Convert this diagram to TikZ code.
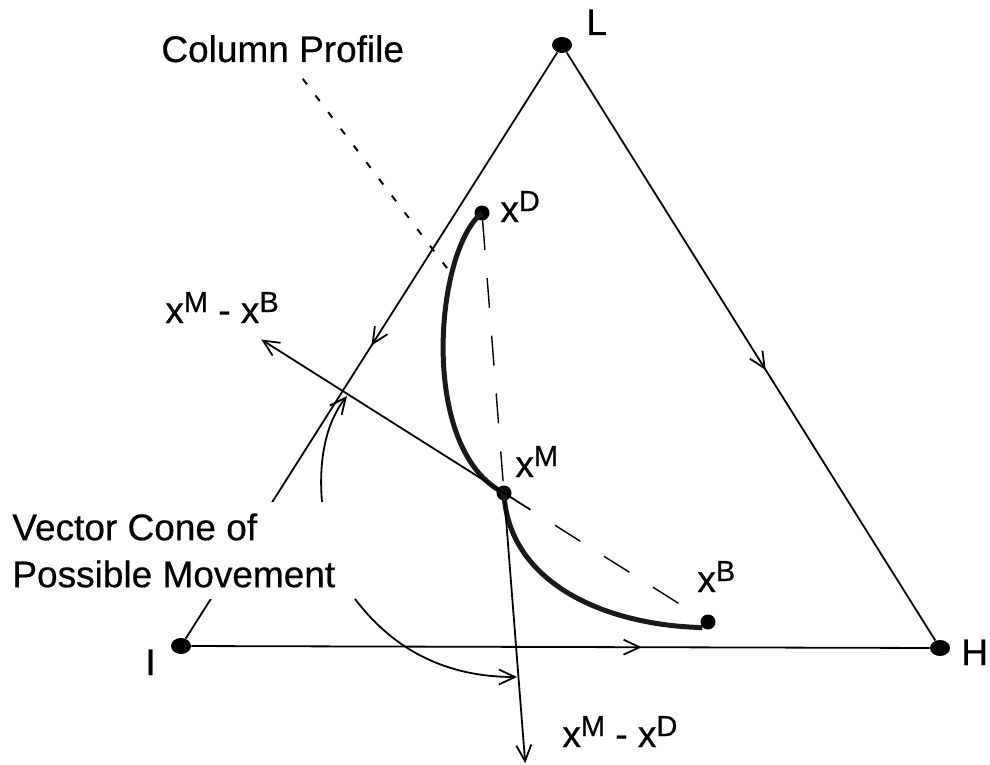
\documentclass[tikz,border=0pt]{standalone}
\usepackage{fontspec}
\setmainfont{Liberation Sans}[FakeBold=0.5]
\usetikzlibrary{arrows.meta,calc,decorations.markings,shapes.geometric}

% x with a raised index, as in the plot labels
\newcommand{\vx}[1]{x\raisebox{5.5pt}{\fontsize{14.5}{16}\selectfont #1}}

\begin{document}
\begin{tikzpicture}[x=0.5pt, y=-0.5pt,
  >={Straight Barb[length=8pt,width=7.5pt]},
  vdot/.style={ellipse, fill, minimum width=10pt, minimum height=8pt, inner sep=0pt},
  pdot/.style={circle, fill, minimum size=7.5pt, inner sep=0pt},
  lbl/.style={font=\fontsize{18.5}{23.5}\selectfont, inner sep=0pt, anchor=base west},
  midarrow/.style={postaction={decorate},
    decoration={markings, mark=at position #1 with {\arrow{>}}}},
  side/.style={line width=0.9pt},
  vec/.style={line width=0.9pt, ->}]
  \useasboundingbox (0,0) rectangle (990,765);

  % The corners L, I, H of the triangle.
  \node[vdot] (L) at (562,45) {};
  \node[vdot] (I) at (181,646) {};
  \node[vdot] (H) at (940,648) {};
  \node[lbl] (Llbl) at (586,35) {L};
  \node[lbl] (Ilbl) at (145,675) {I};
  \node[lbl] (Hlbl) at (961,665) {H};
  \draw[side, midarrow=0.5] (L) -- (I);
  \draw[side, midarrow=0.54] (L) -- (H);
  \draw[side, midarrow=0.61] (I) -- (H);

  % The column profile from x^D through x^M to x^B.
  \node[pdot] (xD) at (482,213) {};
  \node[pdot] (xM) at (504,493) {};
  \node[pdot] (xB) at (708,622) {};
  \draw[line width=2.5pt, black!90] (xD.center) .. controls (435,250) and (418,450) .. (xM.center)
    .. controls (508,580) and (600,625) .. (xB.south west);
  \node[lbl] (xDlbl) at (500,222) {\vx{D}};
  \node[lbl] (xMlbl) at (515,477) {\vx{M}};
  \node[lbl] (xBlbl) at (697,592) {\vx{B}};

  % The two directions at x^M.
  \draw[line width=0.7pt, dash pattern=on 15pt off 14pt]
    ($(xD)!0.025!(xM)$) -- ($(xD)!0.96!(xM)$);
  \draw[line width=0.7pt, dash pattern=on 15pt off 14pt]
    ($(xM)!0.25!(xB)$) -- ($(xM)!0.86!(xB)$);
  \draw[vec] ($(xM)!0.13!(xB)$) -- ($(xM)!-1.19!(xB)$);
  \draw[vec] (xM) -- ($(xM)!-0.965!(xD)$);
  \node[lbl] (vMB) at (165,323) {\vx{M} - \vx{B}};
  \node[lbl] (vMD) at (562,747) {\vx{M} - \vx{D}};

  % The cone between them.
  \node[lbl, anchor=north west, align=left, fill=white, inner xsep=4pt, inner ysep=5.5pt]
    (cone) at (4,502) {Vector Cone of\\Possible Movement};
  \coordinate (c1) at (322,0);
  \coordinate (t1) at (347,396);
  \coordinate (c2) at (355,0);
  \coordinate (t2) at (517,677);
  \draw[vec] (cone.north -| c1) .. controls (318,455) and (328,420) .. (t1);
  \draw[vec] (cone.south -| c2) .. controls (390,645) and (440,677) .. (t2);

  % Column profile label.
  \node[lbl] (cp) at (161,62) {Column Profile};
  \coordinate (cpend) at (450,272);
  \draw[line width=1pt, dash pattern=on 3.5pt off 7pt] ([xshift=10pt,yshift=-8pt]cp.south) -- (cpend);
\end{tikzpicture}
\end{document}
